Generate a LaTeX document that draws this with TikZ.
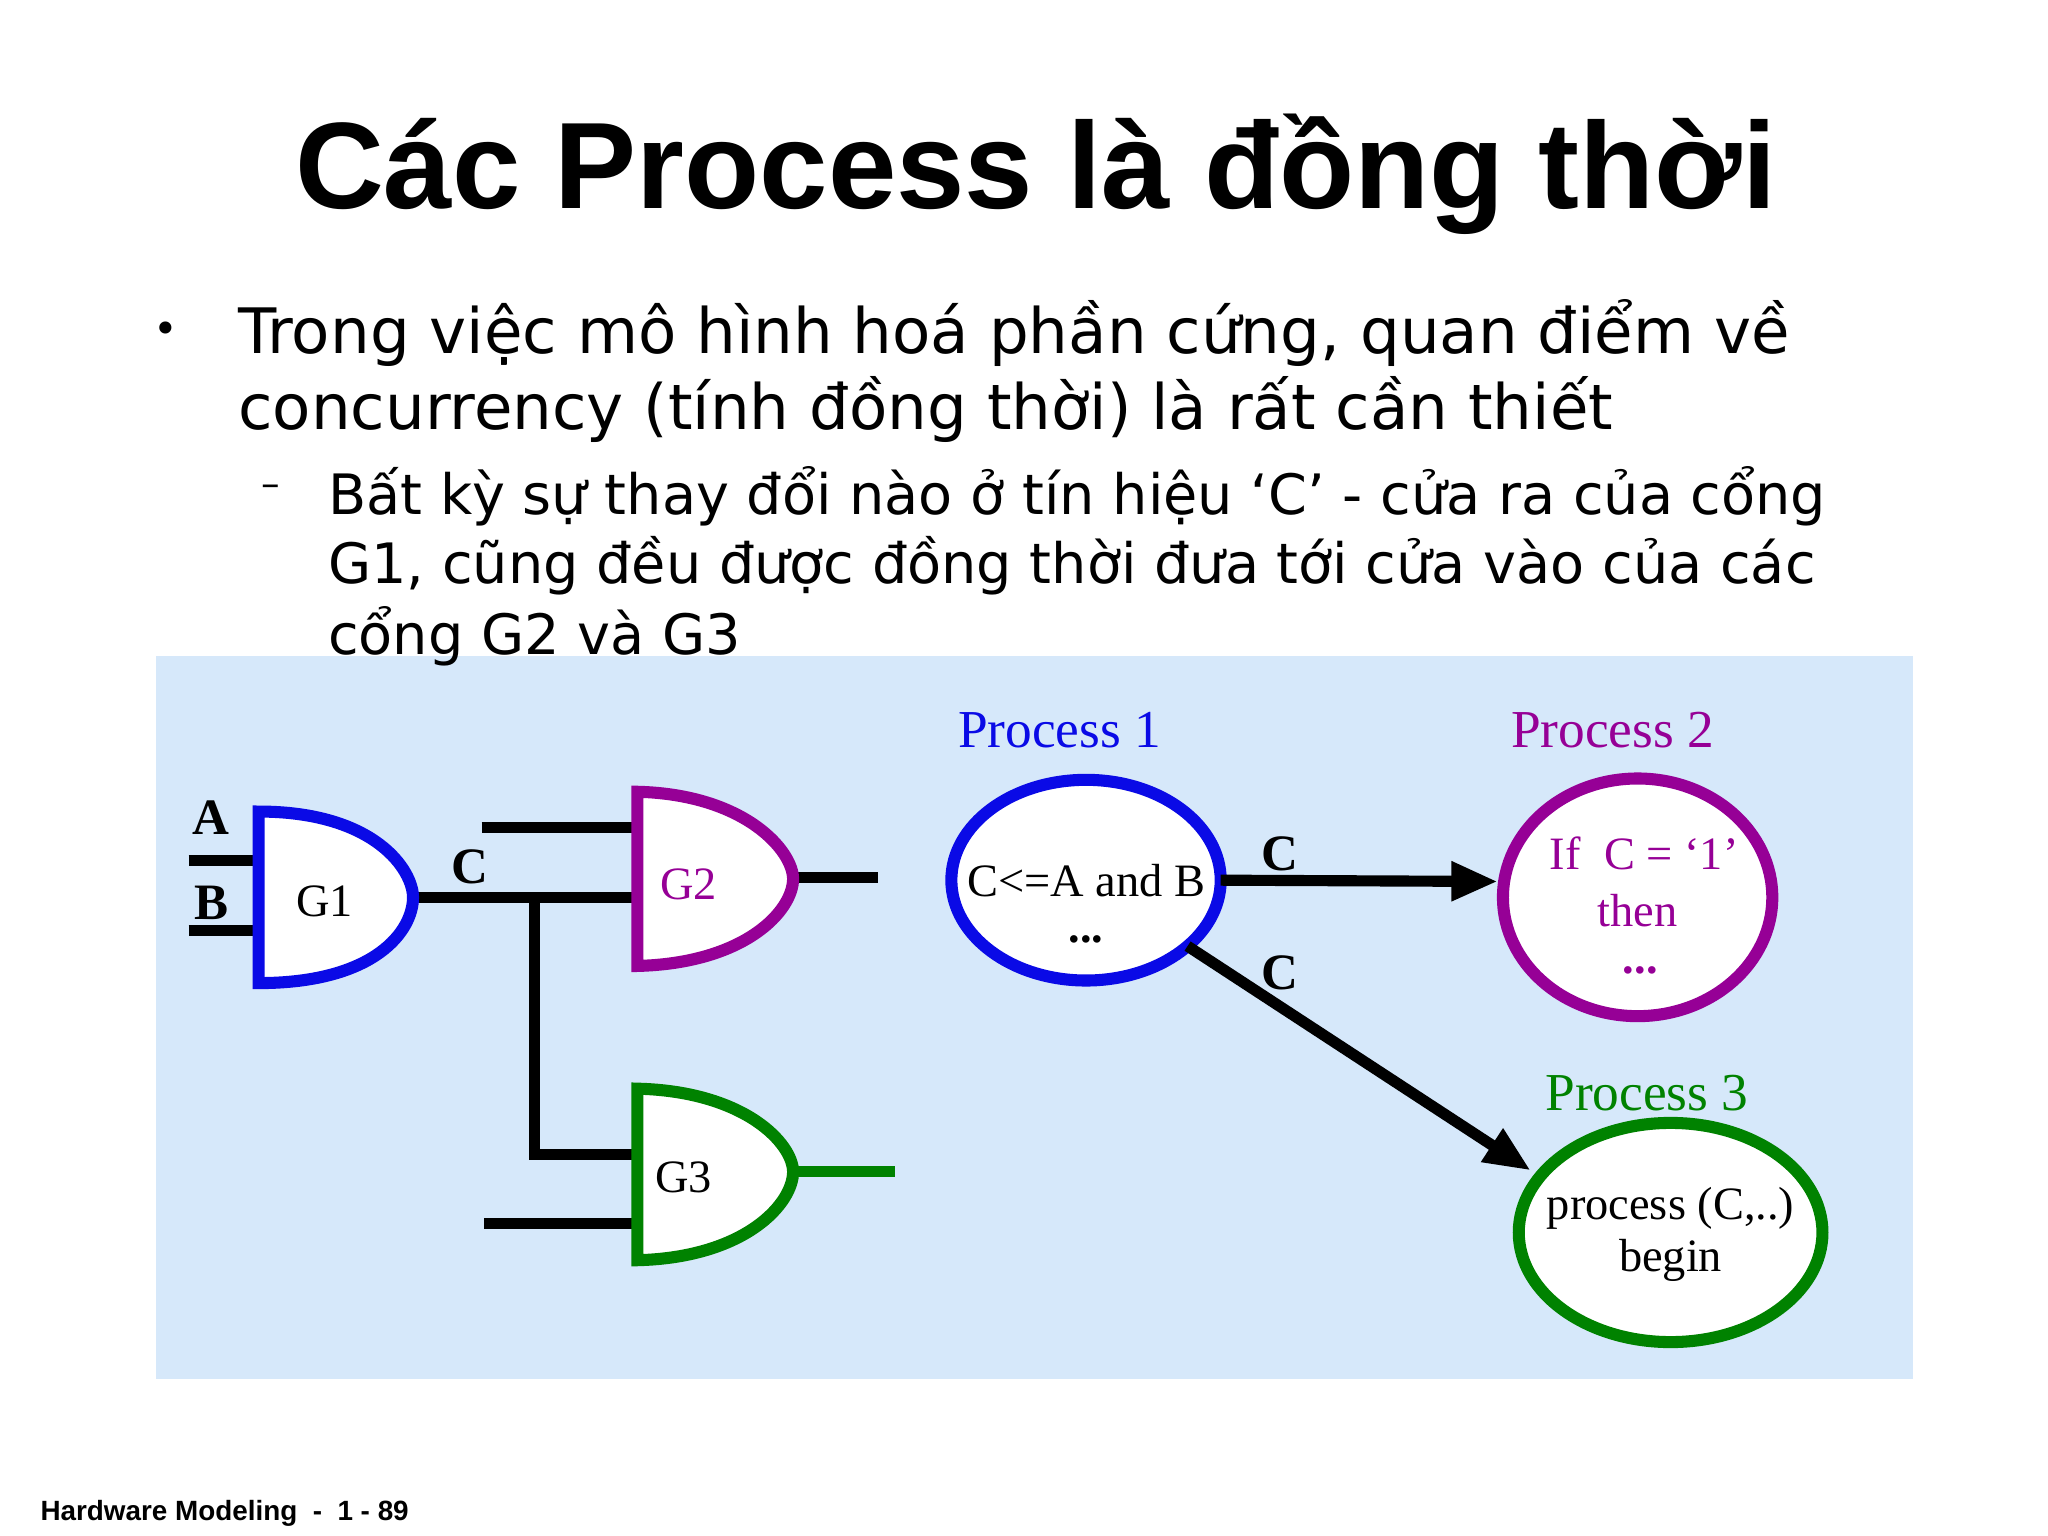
\documentclass[tikz,border=0pt]{standalone}
\usepackage{fontspec}
\setmainfont{Liberation Serif}
\newfontfamily\arialf{Liberation Sans}
\newfontfamily\verd{DejaVu Sans}
\usetikzlibrary{arrows.meta,shapes.geometric}
\definecolor{bgblue}{RGB}{214,232,250}
\definecolor{pblue}{RGB}{10,10,230}
\definecolor{ppurple}{RGB}{150,0,150}
\definecolor{pgreen}{RGB}{0,130,0}
\tikzset{
  wire/.style={line width=2.4pt,black},
  gate/.style={line width=2.6pt,fill=white},
  lbl/.style={font=\fontsize{11}{13}\selectfont\bfseries},
  ptxt/.style={font=\fontsize{10}{12}\selectfont},
  ptitle/.style={font=\fontsize{11.5}{14}\selectfont},
  proc/.style={ellipse,line width=2.6pt,fill=white,inner sep=0pt,outer sep=0pt},
  arr/.style={line width=2.4pt,-{Triangle[length=10pt,width=8pt]}},
  body/.style={font=\verd\fontsize{13.5}{16}\selectfont,anchor=west,inner sep=0pt},
  sub/.style={font=\verd\fontsize{12}{14}\selectfont,anchor=west,inner sep=0pt},
}
\begin{document}
\begin{tikzpicture}[x=0.01cm,y=-0.01cm]
\useasboundingbox[fill=white] (0,0) rectangle (1552,1164);
\node[font=\arialf\bfseries\fontsize{26.5}{30}\selectfont] (title) at (785,132) {Các Process là đồng thời};
\node[font=\verd\fontsize{9}{10}\selectfont] (bul) at (126,252) {•};
\node[body] (l1) at (180,252) {Trong việc mô hình hoá phần cứng, quan điểm về};
\node[body] (l2) at (180,310) {concurrency (tính đồng thời) là rất cần thiết};
\node[font=\verd\fontsize{8}{10}\selectfont] (d) at (205,372) {–};
\fill[bgblue] (118,497) rectangle (1450,1045);
\node[sub] (s1) at (248,376) {Bất kỳ sự thay đổi nào ở tín hiệu ‘C’ - cửa ra của cổng};
\node[sub] (s2) at (248,429) {G1, cũng đều được đồng thời đưa tới cửa vào của các};
\node[sub] (s3) at (248,482) {cổng G2 và G3};
% wires
\coordinate (a0) at (143,652); \coordinate (a1) at (196,652);
\coordinate (b0) at (143,705); \coordinate (b1) at (196,705);
\draw[wire] (a0) -- (a1); \draw[wire] (b0) -- (b1);
\coordinate (g1o) at (313,680); \coordinate (g2c) at (483,680);
\coordinate (j) at (405,680); \coordinate (jb) at (405,875); \coordinate (g3a) at (483,875);
\draw[wire] (g1o) -- (g2c);
\draw[wire] (j) -- (jb) -- (g3a);
\coordinate (g2a0) at (365,627); \coordinate (g2a) at (483,627);
\draw[wire] (g2a0) -- (g2a);
\coordinate (g3b0) at (367,927); \coordinate (g3b) at (483,927);
\draw[wire] (g3b0) -- (g3b);
\coordinate (g2o) at (601,665); \coordinate (g2o1) at (665,665);
\draw[wire] (g2o) -- (g2o1);
\coordinate (g3o) at (601,888); \coordinate (g3o1) at (678,888);
\draw[wire,pgreen] (g3o) -- (g3o1);
% gates
\draw[gate,draw=pblue] (196,615) .. controls (285,615) and (313,660) .. (313,680) .. controls (313,705) and (285,745) .. (196,745) -- cycle;
\draw[gate,draw=ppurple] (483,600) .. controls (565,602) and (601,645) .. (601,666) .. controls (601,690) and (565,730) .. (483,732) -- cycle;
\draw[gate,draw=pgreen] (483,825) .. controls (565,827) and (601,867) .. (601,888) .. controls (601,912) and (565,953) .. (483,955) -- cycle;
\node[lbl] (A) at (160,620) {A};
\node[lbl] (B) at (160,684) {B};
\node[lbl] (Cl) at (356,657) {C};
\node[ptxt] (G1) at (246,683) {G1};
\node[ptxt,ppurple] (G2) at (522,670) {G2};
\node[ptxt] (G3) at (518,892) {G3};
% processes
\node[proc,draw=pblue,minimum width=2.04cm,minimum height=1.52cm] (p1) at (823,667) {};
\node[ptxt] (p1a) at (823,667) {C<=A and B};
\node[ptxt,font=\bfseries] (p1b) at (823,712) {...};
\node[ptitle,pblue] (p1t) at (803,553) {Process 1};
\node[proc,draw=ppurple,minimum width=2.04cm,minimum height=1.80cm] (p2) at (1241,680) {};
\node[ptxt,ppurple] (p2a) at (1246,647) {If\ \ C = ‘1’};
\node[ptxt,ppurple] (p2b) at (1241,690) {then};
\node[ptxt,ppurple,font=\bfseries] (p2c) at (1243,735) {...};
\node[ptitle,ppurple] (p2t) at (1222,553) {Process 2};
\node[proc,draw=pgreen,minimum width=2.30cm,minimum height=1.66cm] (p3) at (1266,934) {};
\node[ptxt] (p3a) at (1266,916) {process (C,..)};
\node[ptxt] (p3b) at (1266,955) {begin};
\node[ptitle,pgreen] (p3t) at (1248,828) {Process 3};
\coordinate (e1) at (1135,668);
\draw[arr] (p1.east) -- (e1);
\coordinate (e2) at (1160,887);
\draw[arr] (p1.-33) -- (e2);
\node[lbl] (c1) at (970,647) {C};
\node[lbl] (c2) at (970,737) {C};
\node[font=\arialf\bfseries\fontsize{6}{8}\selectfont,anchor=west,inner sep=0pt] (foot) at (30,1147) {Hardware Modeling\ \ -\ \ 1 - 89};
\end{tikzpicture}
\end{document}
